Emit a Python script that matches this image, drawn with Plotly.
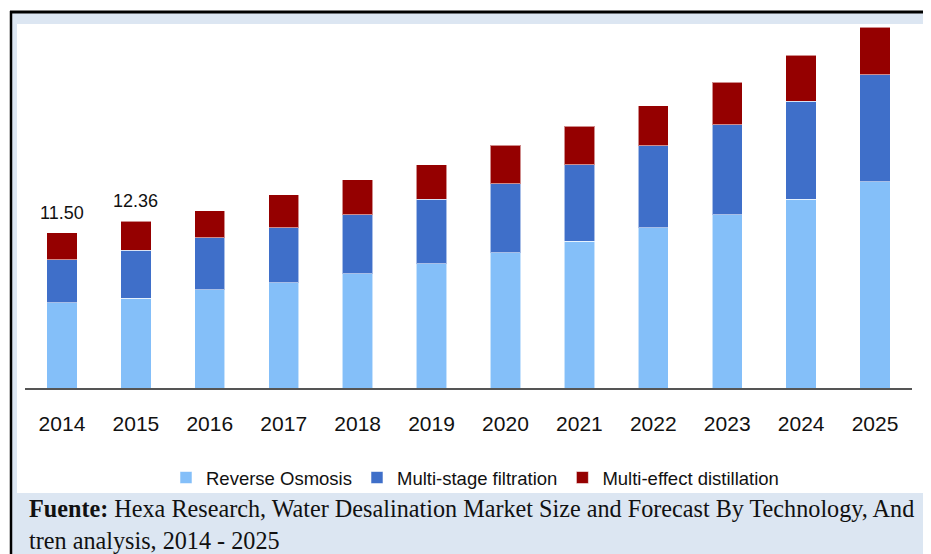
import plotly.graph_objects as go

# Water desalination market by technology, 2014-2025
YEARS = ["2014", "2015", "2016", "2017", "2018", "2019",
         "2020", "2021", "2022", "2023", "2024", "2025"]
REVERSE_OSMOSIS = [6.31, 6.67, 7.27, 7.79, 8.46, 9.20,
                   10.01, 10.88, 11.87, 12.86, 13.99, 15.28]
MULTI_STAGE = [3.19, 3.55, 3.86, 4.08, 4.40, 4.79,
               5.12, 5.67, 6.08, 6.65, 7.25, 7.94]
MULTI_EFFECT = [2.00, 2.14, 2.00, 2.45, 2.57, 2.57,
                2.86, 2.86, 2.99, 3.14, 3.41, 3.53]
LABELS = {"2014": "11.50", "2015": "12.36"}

SERIES_COLORS = {
    "Reverse Osmosis": "#84bff9",
    "Multi-stage filtration": "#3f6fc9",
    "Multi-effect distillation": "#950000",
}

SANS = "Liberation Sans Narrow, Arial Narrow, Liberation Sans, Arial, sans-serif"
SERIF = "Liberation Serif, Times New Roman, serif"

# the page puts the figure 8px in from the top-left corner of the window
OFF = 8
W, H = 931 - OFF, 554 - OFF
ML, MR, MT, MB = 17, 19, 16, 166
PW, PH = W - ML - MR, H - MT - MB


def px_x(px):
    # window pixel -> paper x
    return (px - OFF - ML) / PW


def px_y(py):
    # window pixel -> paper y
    return (H - MB - (py - OFF)) / PH


fig = go.Figure()
for name, vals in [("Reverse Osmosis", REVERSE_OSMOSIS),
                   ("Multi-stage filtration", MULTI_STAGE),
                   ("Multi-effect distillation", MULTI_EFFECT)]:
    fig.add_trace(go.Bar(
        name=name, x=YEARS, y=vals,
        marker=dict(color=SERIES_COLORS[name],
                    line=dict(color="rgba(255,255,255,0.55)", width=1)),
        width=0.41,
        hovertemplate="%{x}: %{y}<extra>" + name + "</extra>",
    ))

totals = [a + b + c for a, b, c in zip(REVERSE_OSMOSIS, MULTI_STAGE, MULTI_EFFECT)]
annotations = []
for i, (yr, tot) in enumerate(zip(YEARS, totals)):
    if yr in LABELS:
        annotations.append(dict(
            x=i, y=tot, xref="x", yref="y", text=LABELS[yr], showarrow=False,
            yanchor="bottom", yshift=8,
            font=dict(family=SANS, size=18, color="#111111"),
        ))

# source note
annotations.append(dict(
    x=px_x(27), y=px_y(508), xref="paper", yref="paper", xanchor="left",
    yanchor="middle", showarrow=False,
    text="<b>Fuente:</b> Hexa Research, Water Desalination Market Size and "
         "Forecast By Technology, And",
    font=dict(family=SERIF, size=24.2, color="#111111"),
))
annotations.append(dict(
    x=px_x(27), y=px_y(540), xref="paper", yref="paper", xanchor="left",
    yanchor="middle", showarrow=False,
    text="tren analysis, 2014 - 2025",
    font=dict(family=SERIF, size=24.2, color="#111111"),
))

shapes = [
    dict(type="rect", xref="paper", yref="paper", layer="below",
         x0=px_x(11), x1=px_x(935), y0=px_y(560), y1=px_y(12),
         fillcolor="#dce6f2", line=dict(width=0)),
    dict(type="rect", xref="paper", yref="paper", layer="below",
         x0=px_x(17), x1=px_x(928), y0=px_y(493), y1=px_y(24),
         fillcolor="#ffffff", line=dict(width=0)),
    dict(type="line", xref="paper", yref="paper", layer="below",
         x0=px_x(10), x1=px_x(935), y0=px_y(12), y1=px_y(12),
         line=dict(color="#000000", width=3)),
    dict(type="line", xref="paper", yref="paper", layer="below",
         x0=px_x(11), x1=px_x(11), y0=px_y(11), y1=px_y(560),
         line=dict(color="#000000", width=2.5)),
]

fig.update_layout(
    width=W, height=H,
    margin=dict(l=ML, r=MR, t=MT, b=MB, autoexpand=False),
    barmode="stack",
    paper_bgcolor="#ffffff",
    plot_bgcolor="rgba(0,0,0,0)",
    xaxis=dict(
        type="category", automargin=False,
        showline=True, linecolor="#555555", linewidth=2,
        ticks="outside", ticklen=16, tickcolor="rgba(0,0,0,0)",
        tickfont=dict(family=SANS, size=21, color="#111111"),
        showgrid=False, fixedrange=True,
    ),
    yaxis=dict(range=[0, PH / 13.49], visible=False, showgrid=False,
               automargin=False),
    showlegend=True,
    legend=dict(
        orientation="h", xref="container", yref="container",
        x=(475 - OFF) / W, xanchor="center",
        y=(H - (478 - OFF)) / H, yanchor="middle",
        font=dict(family=SANS, size=18.5, color="#111111"),
        bgcolor="rgba(0,0,0,0)", itemwidth=30, traceorder="normal",
    ),
    annotations=annotations,
    shapes=shapes,
)

fig.write_html("out.html")
